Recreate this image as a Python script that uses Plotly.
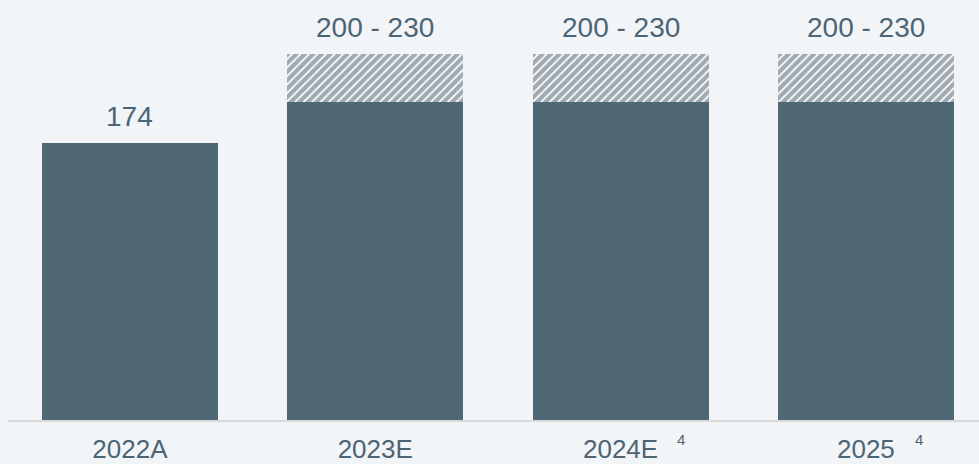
import plotly.graph_objects as go

categories = ["2022A", "2023E", "2024E", "2025"]
base_values = [174, 200, 200, 200]
range_upper = [174, 230, 230, 230]
value_labels = ["174", "200 - 230", "200 - 230", "200 - 230"]
footnotes = ["", "", "4", "4"]

range_extra = [u - b for u, b in zip(range_upper, base_values)]

BAR = "#506776"
TEXT = "#4d6474"
BG = "#f2f5f8"
FONT = "Liberation Sans, Arial, sans-serif"

fig = go.Figure()
fig.add_trace(go.Bar(x=categories, y=base_values, marker=dict(color=BAR, line=dict(width=0)),
                     hoverinfo="skip"))
fig.add_trace(go.Bar(x=categories, y=range_extra,
                     marker=dict(color="white", line=dict(width=0),
                                 pattern=dict(shape="/", fgcolor="#3f5565", bgcolor="white",
                                              size=6, solidity=0.7)),
                     hoverinfo="skip"))

annotations = []
for i, (top, lab) in enumerate(zip(range_upper, value_labels)):
    annotations.append(dict(x=i, y=top, xref="x", yref="y", text=lab, showarrow=False,
                            yanchor="bottom", yshift=9,
                            font=dict(size=28, color=TEXT, family=FONT)))
for i, (c, fn) in enumerate(zip(categories, footnotes)):
    if fn:
        annotations.append(dict(x=i, y=0, xref="x", yref="y", text=fn, showarrow=False,
                                xanchor="left", yanchor="middle",
                                xshift=54 if c == "2024E" else 47, yshift=-19,
                                font=dict(size=15, color=TEXT, family=FONT)))

fig.update_layout(
    width=979, height=464,
    margin=dict(l=8, r=0, t=20, b=44, autoexpand=False),
    paper_bgcolor=BG, plot_bgcolor=BG,
    barmode="stack", bargap=0.283, showlegend=False,
    font=dict(family=FONT, color=TEXT),
    annotations=annotations,
    xaxis=dict(type="category", range=[-0.497, 3.461], showline=True, linecolor="#d9d9d9",
               linewidth=2, showgrid=False, ticks="", ticklabelstandoff=5,
               tickfont=dict(size=26, color=TEXT, family=FONT), fixedrange=True),
    yaxis=dict(range=[0, 251.6], visible=False, showgrid=False, zeroline=False,
               fixedrange=True),
)

fig.write_html("out.html", config={"displayModeBar": False},
               post_script="document.body.style.margin='0';document.body.style.background='%s';" % BG)
